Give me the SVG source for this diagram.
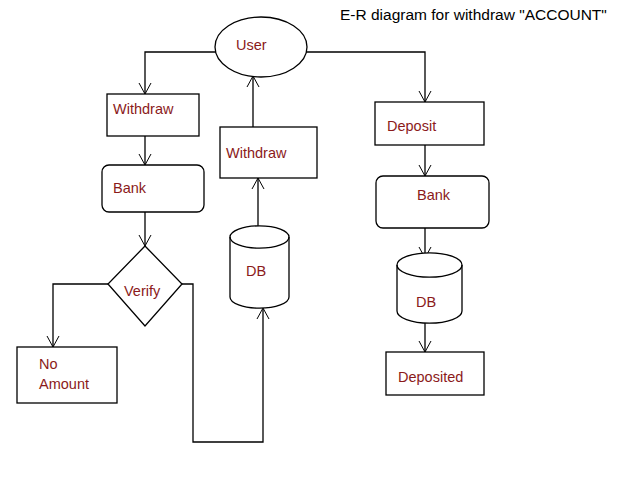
<svg xmlns="http://www.w3.org/2000/svg" width="640" height="480" viewBox="0 0 640 480">
<defs><marker id="a" markerWidth="14" markerHeight="14" refX="12" refY="7" orient="auto" markerUnits="userSpaceOnUse"><path d="M1,1 L12,7 L1,13" fill="none" stroke="#000" stroke-width="1"/></marker></defs>
<style>.s{fill:#fff;stroke:#000;stroke-width:1.3}.t{font-family:"Liberation Sans",Arial,sans-serif;font-size:14.5px;fill:#8b1a1a}.c{fill:none;stroke:#000;stroke-width:1.3}</style>
<rect width="640" height="480" fill="#fff"/>
<text x="340" y="20" font-family="Liberation Sans,Arial,sans-serif" font-size="15.5" fill="#000">E-R diagram for withdraw "ACCOUNT"</text>
<g id="connectors" class="c">
<path d="M216,52 H145 V94" marker-end="url(#a)"/>
<path d="M145,136 V165" marker-end="url(#a)"/>
<path d="M145,212 V246" marker-end="url(#a)"/>
<path d="M108,284 H53 V347" marker-end="url(#a)"/>
<path d="M182,284 H193 V442 H263 V308" marker-end="url(#a)"/>
<path d="M258,227 V178" marker-end="url(#a)"/>
<path d="M253,157 V76" marker-end="url(#a)"/>
<path d="M306,52 H425 V102" marker-end="url(#a)"/>
<path d="M425,145 V176" marker-end="url(#a)"/>
<path d="M425,228 V258" marker-end="url(#a)"/>
<path d="M425,323 V352" marker-end="url(#a)"/>
</g>
<g id="user"><ellipse class="s" cx="261" cy="47" rx="46" ry="30"/><text class="t" x="236" y="50">User</text></g>
<g id="withdraw1"><rect class="s" x="107" y="94" width="92" height="42"/><text class="t" x="113" y="114">Withdraw</text></g>
<g id="bank1"><rect class="s" x="102" y="165" width="102" height="47" rx="7"/><text class="t" x="113" y="193">Bank</text></g>
<g id="verify"><path class="s" d="M145,246 L182,284 L145,326 L108,284 Z"/><text class="t" x="124" y="296">Verify</text></g>
<g id="noamount"><rect class="s" x="17" y="347" width="100" height="56"/><text class="t" x="39" y="369">No</text><text class="t" x="39" y="389">Amount</text></g>
<g id="withdraw2"><rect class="s" x="220" y="127" width="97" height="51"/><text class="t" x="226" y="158">Withdraw</text></g>
<g id="db1"><path class="s" d="M230,237 A29,11 0 0 1 289,237 V297 A29,11 0 0 1 230,297 Z"/><path class="c" d="M230,237 A29,11 0 0 0 289,237"/><text class="t" x="246" y="276">DB</text></g>
<g id="deposit"><rect class="s" x="375" y="102" width="109" height="43"/><text class="t" x="387" y="131">Deposit</text></g>
<g id="bank2"><rect class="s" x="376" y="176" width="113" height="52" rx="7"/><text class="t" x="417" y="200">Bank</text></g>
<g id="db2"><path class="s" d="M397,265 A32,12 0 0 1 462,265 V311 A32,12 0 0 1 397,311 Z"/><path class="c" d="M397,265 A32,12 0 0 0 462,265"/><text class="t" x="416" y="307">DB</text></g>
<g id="deposited"><rect class="s" x="386" y="352" width="98" height="43"/><text class="t" x="398" y="382">Deposited</text></g>
</svg>
